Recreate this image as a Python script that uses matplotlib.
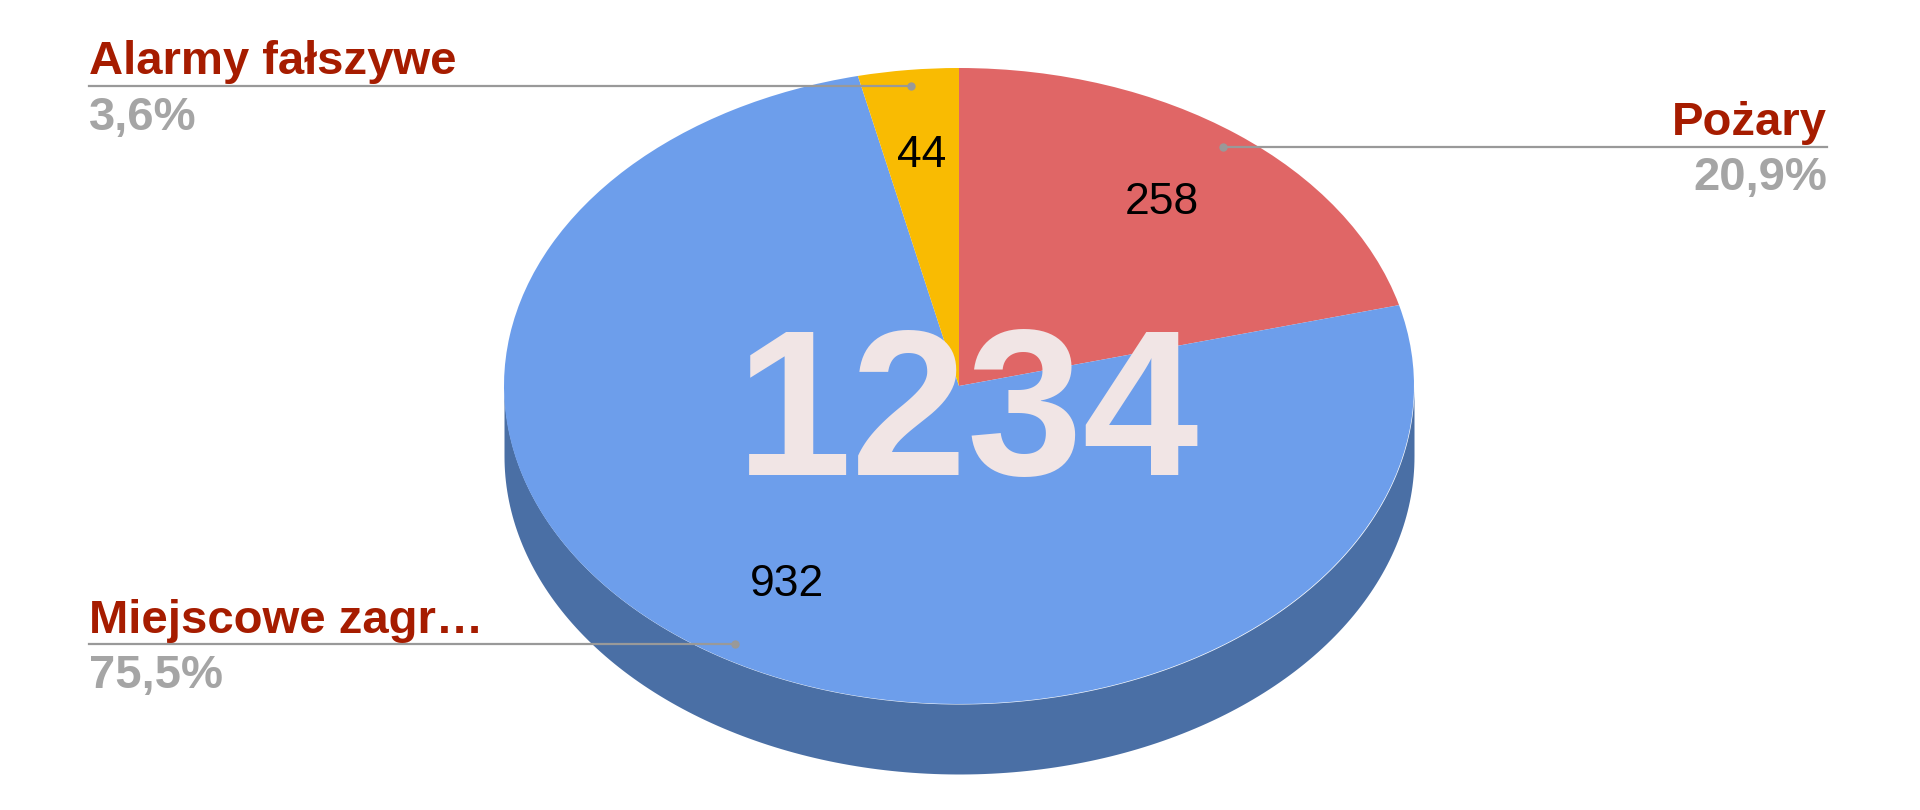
import numpy as np
import matplotlib
matplotlib.use("Agg")
import matplotlib.pyplot as plt

# data
categories = ["Pożary", "Miejscowe zagr…", "Alarmy fałszywe"]
values = [258, 932, 44]
pct_labels = ["20,9%", "75,5%", "3,6%"]
label_side = ["right", "left", "left"]

top_colors = ["#e06666", "#6d9eeb", "#f9bb02"]
side_colors = ["#a84d4d", "#4a6fa5", "#bb8c00"]
name_color = "#a61c00"
pct_color = "#a5a5a5"
line_color = "#999999"

plt.rcParams['font.family'] = ['Liberation Sans', 'DejaVu Sans']

W, H = 1920, 810
fig = plt.figure(figsize=(W / 100, H / 100), dpi=100)

# pie geometry in pixels (ellipse centre, radii, depth of the 3d side)
cx, cy, rx, ry = 959, 386, 455, 318
depth = 70 / ry
xlim = (-1.2, 1.2)
ylim = (-1.4, 1.2)
ax = fig.add_axes([(cx + xlim[0] * rx) / W, (H - cy + ylim[0] * ry) / H,
                   (xlim[1] - xlim[0]) * rx / W, (ylim[1] - ylim[0]) * ry / H])

total = sum(values)
fracs = np.array(values) / total
ends = np.cumsum(fracs) * 360
starts = ends - fracs * 360

# side of the "3d" pie: only the front half (90..270 deg clockwise from top) shows
for a, b, c in zip(starts, ends, side_colors):
    lo, hi = max(a, 90), min(b, 270)
    if lo >= hi:
        continue
    t = np.radians(np.linspace(lo, hi, 200))
    x = np.sin(t)
    y = np.cos(t)
    ax.fill_between(x, y, y - depth, color=c, linewidth=0)

wedges, _, autotexts = ax.pie(
    values, colors=top_colors, startangle=90, counterclock=False,
    autopct=lambda p: f"{round(p * total / 100)}", pctdistance=0.73,
    wedgeprops=dict(linewidth=0), textprops=dict(fontsize=32, color="black"))
ax.set_aspect('auto')
ax.set_xlim(*xlim)
ax.set_ylim(*ylim)

# leader lines + outside labels
text_x = {"left": (89 - cx) / rx, "right": (1827 - cx) / rx}
for name, pct, side, a, b in zip(categories, pct_labels, label_side, starts, ends):
    mid = np.radians((a + b) / 2)
    px, py = 0.95 * np.sin(mid), 0.95 * np.cos(mid)
    tx = text_x[side]
    ax.plot([tx, px], [py, py], color=line_color, lw=1.6, clip_on=False, zorder=3)
    ax.plot(px, py, 'o', color=line_color, ms=5, clip_on=False, zorder=4)
    ax.annotate(name, (tx, py), xytext=(0, 8.5), textcoords='offset points',
                ha=side, va='baseline', fontsize=34, fontweight='bold',
                color=name_color, annotation_clip=False)
    ax.annotate(pct, (tx, py), xytext=(0, -7), textcoords='offset points',
                ha=side, va='top', fontsize=34, fontweight='bold',
                color=pct_color, annotation_clip=False)

# total in the middle
ax.text(0.02, -0.28, f"{total}", ha='center', va='baseline', fontsize=150,
        fontweight='bold', color="#f1e5e5", zorder=5)

fig.savefig("out.png", dpi=100, facecolor="white")
